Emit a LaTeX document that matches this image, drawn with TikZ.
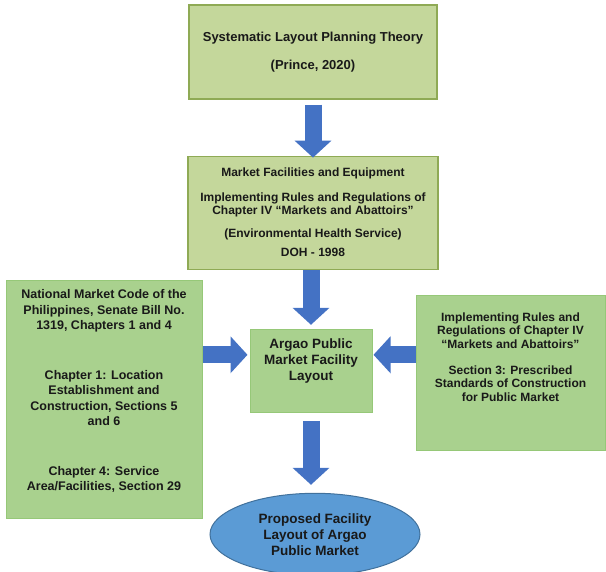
\documentclass[tikz,border=0pt]{standalone}
\usepackage{fontspec}
\setmainfont{Liberation Sans}
\usetikzlibrary{arrows.meta,shapes.geometric,positioning}

\definecolor{olivefill}{RGB}{196,215,155}
\definecolor{oliveedge}{RGB}{143,170,85}
\definecolor{greenfill}{RGB}{169,209,142}
\definecolor{greenedge}{RGB}{150,200,120}
\definecolor{arrowblue}{RGB}{68,114,196}
\definecolor{ovalfill}{RGB}{91,155,213}
\definecolor{ovaledge}{RGB}{65,113,156}

\begin{document}
\begin{tikzpicture}[
        every node/.style={align=center, text=black!90},
        olivebox/.style={draw=oliveedge, fill=olivefill, line width=1.2pt},
        greenbox/.style={draw=greenedge, fill=greenfill, line width=1pt},
        oval/.style={ellipse, draw=ovaledge, fill=ovalfill, line width=1pt},
        bigarrow/.style={draw=arrowblue, line width=17pt, -{Triangle[width=36pt,length=17pt]}}
    ]

    \useasboundingbox (0,0) rectangle (606pt,-572pt);

    % Nodes
    \node (theory) [olivebox, minimum width=248pt, minimum height=94pt,
        font=\bfseries\fontsize{13}{15}\selectfont] at (313pt,-52pt)
        {Systematic Layout Planning Theory\\[13pt]
        (Prince, 2020)};

    \node (facilities) [olivebox, below=56pt of theory, minimum width=250pt, minimum height=113pt,
        font=\bfseries\fontsize{12}{13.5}\selectfont]
        {Market Facilities and Equipment\\[11pt]
        Implementing Rules and Regulations of\\
        Chapter IV “Markets and Abattoirs”\\[9pt]
        (Environmental Health Service)\\[6pt]
        DOH - 1998};

    \node (layout) [greenbox, below=59pt of facilities, xshift=-2pt, minimum width=122pt, minimum height=83pt,
        font=\bfseries\fontsize{13.5}{16}\selectfont]
        {Argao Public\\
        Market Facility\\
        Layout\\[7pt]\mbox{}};

    \node (code) [greenbox, left=47pt of layout, yshift=-28.5pt, minimum width=196pt, minimum height=238pt,
        font=\bfseries\fontsize{12.5}{15.5}\selectfont]
        {National Market Code of the\\
        Philippines, Senate Bill No.\\
        1319, Chapters 1 and 4\\[34pt]
        Chapter 1: Location\\
        Establishment and\\
        Construction, Sections 5\\
        and 6\\[34pt]
        Chapter 4: Service\\
        Area/Facilities, Section 29\\[3pt]\mbox{}};

    \node (rules) [greenbox, right=43pt of layout, yshift=-2pt, minimum width=189pt, minimum height=155pt,
        font=\bfseries\fontsize{12}{13.5}\selectfont]
        {Implementing Rules and\\
        Regulations of Chapter IV\\
        “Markets and Abattoirs”\\[12.5pt]
        Section 3: Prescribed\\
        Standards of Construction\\
        for Public Market\\[18pt]\mbox{}};

    \node (proposed) [oval, below=80pt of layout, xshift=4pt, minimum width=210pt, minimum height=82pt,
        font=\bfseries\fontsize{13.5}{16}\selectfont]
        {Proposed Facility\\
        Layout of Argao\\
        Public Market};

    \coordinate (lin) at ([yshift=16pt]layout.west);
    \coordinate (rin) at ([yshift=16pt]layout.east);

    % Edges
    \draw[bigarrow, shorten <=5pt, shorten >=-2pt] (theory.south -| facilities) -- (facilities);
    \draw[bigarrow, shorten >=4pt] (facilities.south -| layout) -- (layout);
    \draw[bigarrow, shorten >=2pt] (lin -| code.east) -- (lin);
    \draw[bigarrow, shorten >=1pt] (rin -| rules.west) -- (rin);
    \draw[bigarrow, shorten <=8pt, shorten >=8pt] (layout) -- (layout |- proposed.north);

\end{tikzpicture}
\end{document}
